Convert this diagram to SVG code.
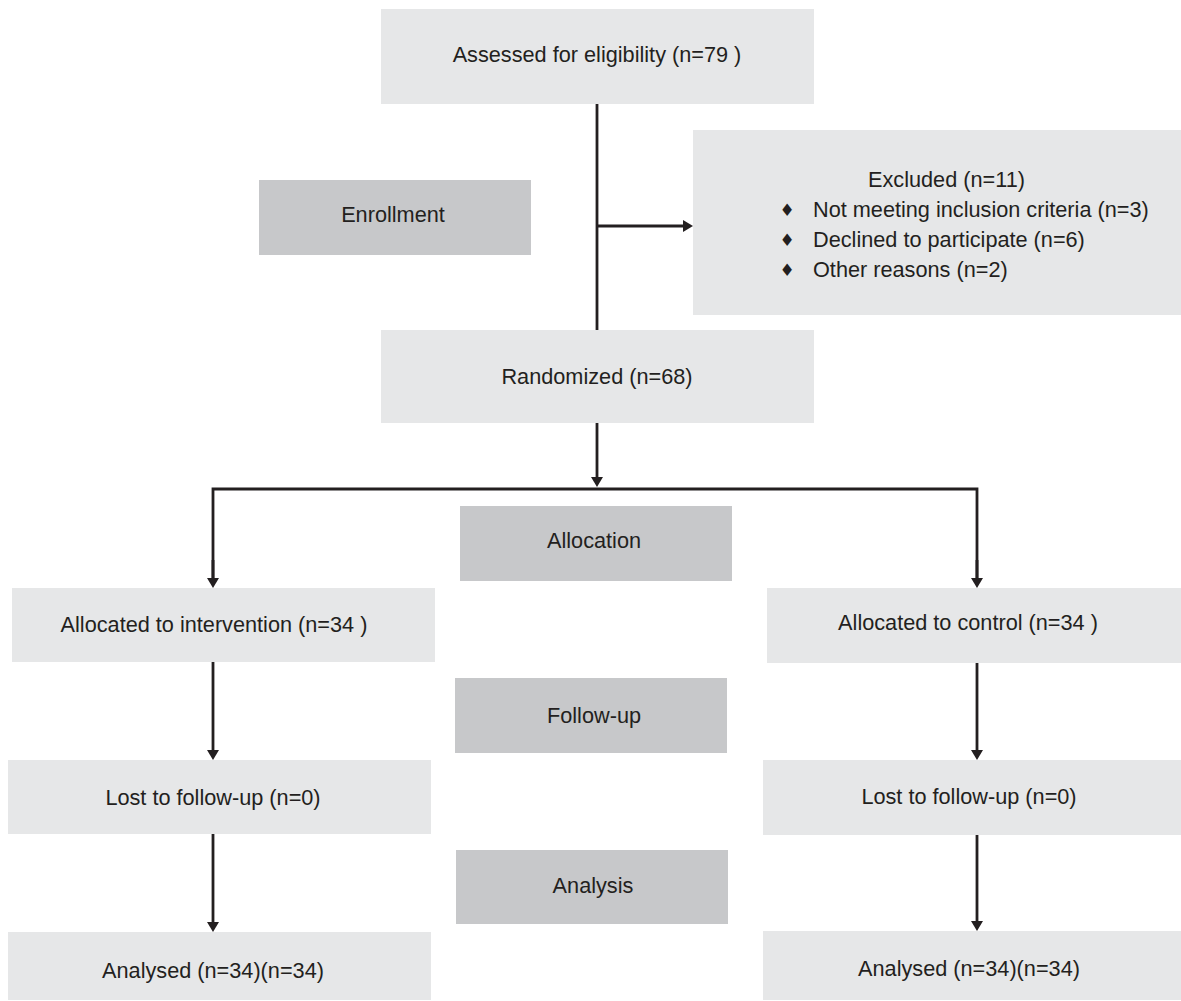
<svg xmlns="http://www.w3.org/2000/svg" width="1181" height="1001" viewBox="0 0 1181 1001">
<style>
.box{fill:#e6e7e8}
.stage{fill:#c7c8ca}
text{font-family:"Liberation Sans",Arial,sans-serif;font-size:21.7px;fill:#231f20}
.c{text-anchor:middle}
.bul{font-family:"DejaVu Sans",sans-serif;font-size:17px}
.ln{stroke:#231f20;stroke-width:2.8;fill:none}
</style>
<defs>
<marker id="ah" viewBox="0 0 10 12" refX="2" refY="6" markerWidth="10" markerHeight="12" markerUnits="userSpaceOnUse" orient="auto">
<path d="M0,0 L10,6 L0,12 z" fill="#231f20"/>
</marker>
</defs>
<rect width="1181" height="1001" fill="#ffffff"/>
<g id="connectors">
<line class="ln" x1="597" y1="104" x2="597" y2="330"/>
<line class="ln" x1="597" y1="226" x2="685" y2="226" marker-end="url(#ah)"/>
<line class="ln" x1="597" y1="423" x2="597" y2="479" marker-end="url(#ah)"/>
<polyline class="ln" points="213,580 213,489 977,489 977,580" />
<line class="ln" x1="213" y1="560" x2="213" y2="580" marker-end="url(#ah)"/>
<line class="ln" x1="977" y1="560" x2="977" y2="580" marker-end="url(#ah)"/>
<line class="ln" x1="213" y1="662" x2="213" y2="752" marker-end="url(#ah)"/>
<line class="ln" x1="977" y1="663" x2="977" y2="752" marker-end="url(#ah)"/>
<line class="ln" x1="213" y1="834" x2="213" y2="924" marker-end="url(#ah)"/>
<line class="ln" x1="977" y1="835" x2="977" y2="923" marker-end="url(#ah)"/>
</g>
<g id="assessed">
<rect class="box" x="381" y="9" width="433" height="95"/>
<text class="c" x="597" y="62">Assessed for eligibility (n=79 )</text>
</g>
<g id="enrollment">
<rect class="stage" x="259" y="180" width="272" height="75"/>
<text class="c" x="393" y="222">Enrollment</text>
</g>
<g id="excluded">
<rect class="box" x="693" y="130" width="488" height="185"/>
<text x="868" y="187">Excluded (n=11)</text>
<text class="bul c" x="787" y="216">♦</text>
<text x="813" y="217">Not meeting inclusion criteria (n=3)</text>
<text class="bul c" x="787" y="246">♦</text>
<text x="813" y="247">Declined to participate (n=6)</text>
<text class="bul c" x="787" y="276">♦</text>
<text x="813" y="277">Other reasons (n=2)</text>
</g>
<g id="randomized">
<rect class="box" x="381" y="330" width="433" height="93"/>
<text class="c" x="597" y="384">Randomized (n=68)</text>
</g>
<g id="allocation">
<rect class="stage" x="460" y="506" width="272" height="75"/>
<text class="c" x="594" y="548">Allocation</text>
</g>
<g id="alloc-intervention">
<rect class="box" x="12" y="588" width="423" height="74"/>
<text class="c" x="214" y="632">Allocated to intervention (n=34 )</text>
</g>
<g id="alloc-control">
<rect class="box" x="767" y="588" width="414" height="75"/>
<text class="c" x="968" y="630">Allocated to control (n=34 )</text>
</g>
<g id="followup">
<rect class="stage" x="455" y="678" width="272" height="75"/>
<text class="c" x="594" y="723">Follow-up</text>
</g>
<g id="lost-left">
<rect class="box" x="8" y="760" width="423" height="74"/>
<text class="c" x="213" y="805">Lost to follow-up (n=0)</text>
</g>
<g id="lost-right">
<rect class="box" x="763" y="760" width="418" height="75"/>
<text class="c" x="969" y="804">Lost to follow-up (n=0)</text>
</g>
<g id="analysis">
<rect class="stage" x="456" y="850" width="272" height="74"/>
<text class="c" x="593" y="893">Analysis</text>
</g>
<g id="analysed-left">
<rect class="box" x="8" y="932" width="423" height="68"/>
<text class="c" x="213" y="978">Analysed (n=34)(n=34)</text>
</g>
<g id="analysed-right">
<rect class="box" x="763" y="931" width="418" height="69"/>
<text class="c" x="969" y="976">Analysed (n=34)(n=34)</text>
</g>
</svg>
